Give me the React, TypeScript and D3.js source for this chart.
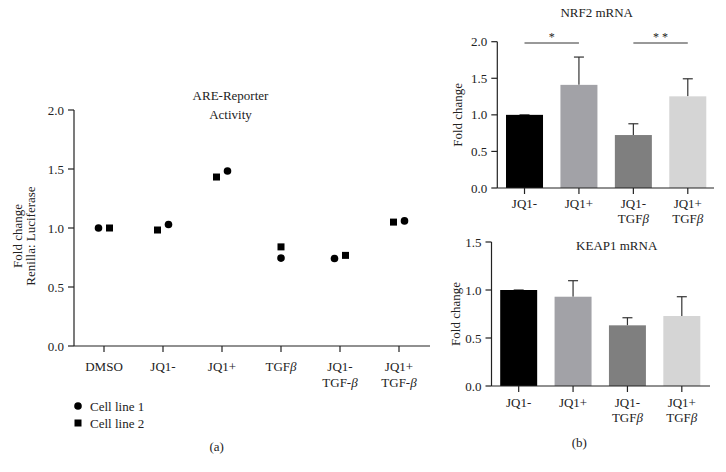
import React from "react";
import * as d3 from "d3";

// Panel (a) data
const aCategories = [["DMSO"], ["JQ1-"], ["JQ1+"], ["TGFβ"], ["JQ1-", "TGF-β"], ["JQ1+", "TGF-β"]];
const cellLine1 = [1.0, 1.03, 1.483, 0.745, 0.742, 1.06];
const cellLine2 = [1.0, 0.983, 1.432, 0.84, 0.768, 1.05];
const circleSide = [-1, 1, 1, 0, -1, 1];
const aTicks = [0, 0.5, 1.0, 1.5, 2.0];

// Panel (b) data
const bCategories = [["JQ1-"], ["JQ1+"], ["JQ1-", "TGFβ"], ["JQ1+", "TGFβ"]];
const nrf2Values = [1.0, 1.41, 0.724, 1.253];
const nrf2Errors = [1.0, 1.79, 0.878, 1.493];
const keap1Values = [1.0, 0.93, 0.632, 0.729];
const keap1Errors = [1.0, 1.097, 0.711, 0.93];
const nrf2Ticks = [0, 0.5, 1.0, 1.5, 2.0];
const keap1Ticks = [0, 0.5, 1.0, 1.5];
const barColors = ["#000000", "#a2a2a7", "#7f7f7f", "#d5d5d5"];
const significance = [
  { from: 0, to: 1, label: "*" },
  { from: 2, to: 3, label: "* *" },
];

const FONT = "'Liberation Serif', 'DejaVu Serif', serif";
const FS = 13;
const fmt = d3.format(".1f");

function Beta({ parts }: { parts: string }) {
  const segs = parts.split("β");
  return (
    <>
      {segs.map((s, i) => (
        <React.Fragment key={i}>
          {s}
          {i < segs.length - 1 && <tspan fontStyle="italic">β</tspan>}
        </React.Fragment>
      ))}
    </>
  );
}

function YAxis({ x, y, ticks }: { x: number; y: d3.ScaleLinear<number, number>; ticks: number[] }) {
  const [y0, y1] = y.range();
  return (
    <g>
      <line x1={x} x2={x} y1={y0} y2={y1} stroke="#222" strokeWidth={1.2} />
      {ticks.map((t) => (
        <g key={t}>
          <line x1={x - 6} x2={x} y1={y(t)} y2={y(t)} stroke="#222" strokeWidth={1.2} />
          <text x={x - 10} y={y(t) + 4.5} textAnchor="end" fontSize={FS} fill="#222">
            {fmt(t)}
          </text>
        </g>
      ))}
    </g>
  );
}

function PanelA() {
  const x = d3.scalePoint<number>().domain(d3.range(aCategories.length)).range([104, 399]);
  const y = d3.scaleLinear().domain([0, 2]).range([346, 110]);
  const off = 5.5;
  return (
    <g>
      <text x={230.5} y={100} textAnchor="middle" fontSize={FS} fill="#222">ARE-Reporter</text>
      <text x={230.5} y={119} textAnchor="middle" fontSize={FS} fill="#222">Activity</text>
      <g transform="translate(21.5,236) rotate(-90)">
        <text x={0} y={0} textAnchor="middle" fontSize={FS} fill="#222">Fold change</text>
        <text x={0} y={13.5} textAnchor="middle" fontSize={FS} fill="#222">Renilla: Luciferase</text>
      </g>
      <YAxis x={74} y={y} ticks={aTicks} />
      <line x1={74} x2={430} y1={y(0)} y2={y(0)} stroke="#222" strokeWidth={1.2} />
      {aCategories.map((c, i) => (
        <g key={i}>
          <line x1={x(i)!} x2={x(i)!} y1={y(0)} y2={y(0) + 6} stroke="#222" strokeWidth={1.2} />
          {c.map((l, j) => (
            <text key={j} x={x(i)!} y={370.5 + j * 16} textAnchor="middle" fontSize={FS} fill="#222">
              <Beta parts={l} />
            </text>
          ))}
        </g>
      ))}
      {cellLine1.map((v, i) => (
        <circle key={"c" + i} cx={x(i)! + circleSide[i] * off} cy={y(v)} r={3.8} fill="#000" />
      ))}
      {cellLine2.map((v, i) => (
        <rect key={"s" + i} x={x(i)! - circleSide[i] * off - 3.5} y={y(v) - 3.5} width={7} height={7} fill="#000" />
      ))}
      <circle cx={78} cy={406} r={3.8} fill="#000" />
      <text x={90} y={410.5} fontSize={FS} fill="#222">Cell line 1</text>
      <rect x={74.5} y={419.5} width={7} height={7} fill="#000" />
      <text x={90} y={427.5} fontSize={FS} fill="#222">Cell line 2</text>
      <text x={216.7} y={450.5} textAnchor="middle" fontSize={FS} fill="#222">(a)</text>
    </g>
  );
}

function BarPanel({
  axisX, xEnd, yTop, yBottom, domainMax, ticks, values, errors, centers, title, titleX, titleY, labelY, ylabelX, sig,
}: any) {
  const x = d3.scaleBand<number>().domain(d3.range(bCategories.length)).range(centers).paddingInner(0.32).paddingOuter(0.16);
  const y = d3.scaleLinear().domain([0, domainMax]).range([yBottom, yTop]);
  const bw = x.bandwidth();
  const cx = (i: number) => x(i)! + bw / 2;
  return (
    <g>
      <text x={titleX} y={titleY} textAnchor="middle" fontSize={FS} fill="#222">{title}</text>
      <text transform={`translate(${ylabelX},${(yTop + yBottom) / 2}) rotate(-90)`} textAnchor="middle" fontSize={FS} fill="#222">
        Fold change
      </text>
      {values.map((v: number, i: number) => (
        <g key={i}>
          <line x1={cx(i)} x2={cx(i)} y1={y(v)} y2={y(errors[i])} stroke="#333" strokeWidth={1.2} />
          <line x1={cx(i) - 5} x2={cx(i) + 5} y1={y(errors[i])} y2={y(errors[i])} stroke="#333" strokeWidth={1.2} />
          <rect x={x(i)} y={y(v)} width={bw} height={y(0) - y(v)} fill={barColors[i]} />
        </g>
      ))}
      <YAxis x={axisX} y={y} ticks={ticks} />
      <line x1={axisX} x2={xEnd} y1={y(0)} y2={y(0)} stroke="#222" strokeWidth={1.2} />
      {bCategories.map((c, i) => (
        <g key={i}>
          <line x1={cx(i)} x2={cx(i)} y1={y(0)} y2={y(0) + 6} stroke="#222" strokeWidth={1.2} />
          {c.map((l, j) => (
            <text key={j} x={cx(i)} y={labelY + j * 14.5} textAnchor="middle" fontSize={FS} fill="#222">
              <Beta parts={l} />
            </text>
          ))}
        </g>
      ))}
      {sig &&
        significance.map((s, k) => (
          <g key={k}>
            <line x1={cx(s.from)} x2={cx(s.to)} y1={43} y2={43} stroke="#333" strokeWidth={1} />
            <text x={(cx(s.from) + cx(s.to)) / 2} y={41} textAnchor="middle" fontSize={12} fill="#222">{s.label}</text>
          </g>
        ))}
    </g>
  );
}

export default function App() {
  return (
    <svg width={726} height={472} style={{ display: "block", position: "absolute", left: 0, top: 0, background: "#fff" }} fontFamily={FONT}>
      <rect width={726} height={472} fill="#fff" />
      <PanelA />
      <BarPanel
        axisX={497.3} xEnd={714} yTop={41.7} yBottom={188} domainMax={2} ticks={nrf2Ticks}
        values={nrf2Values} errors={nrf2Errors} centers={[497.3, 715]}
        title="NRF2 mRNA" titleX={596.7} titleY={17} labelY={208} ylabelX={462} sig={true}
      />
      <BarPanel
        axisX={491.5} xEnd={710} yTop={242} yBottom={386} domainMax={1.5} ticks={keap1Ticks}
        values={keap1Values} errors={keap1Errors} centers={[491.5, 709]}
        title="KEAP1 mRNA" titleX={616.7} titleY={250} labelY={407} ylabelX={460} sig={false}
      />
      <text x={579.3} y={447} textAnchor="middle" fontSize={FS} fill="#222">(b)</text>
    </svg>
  );
}
